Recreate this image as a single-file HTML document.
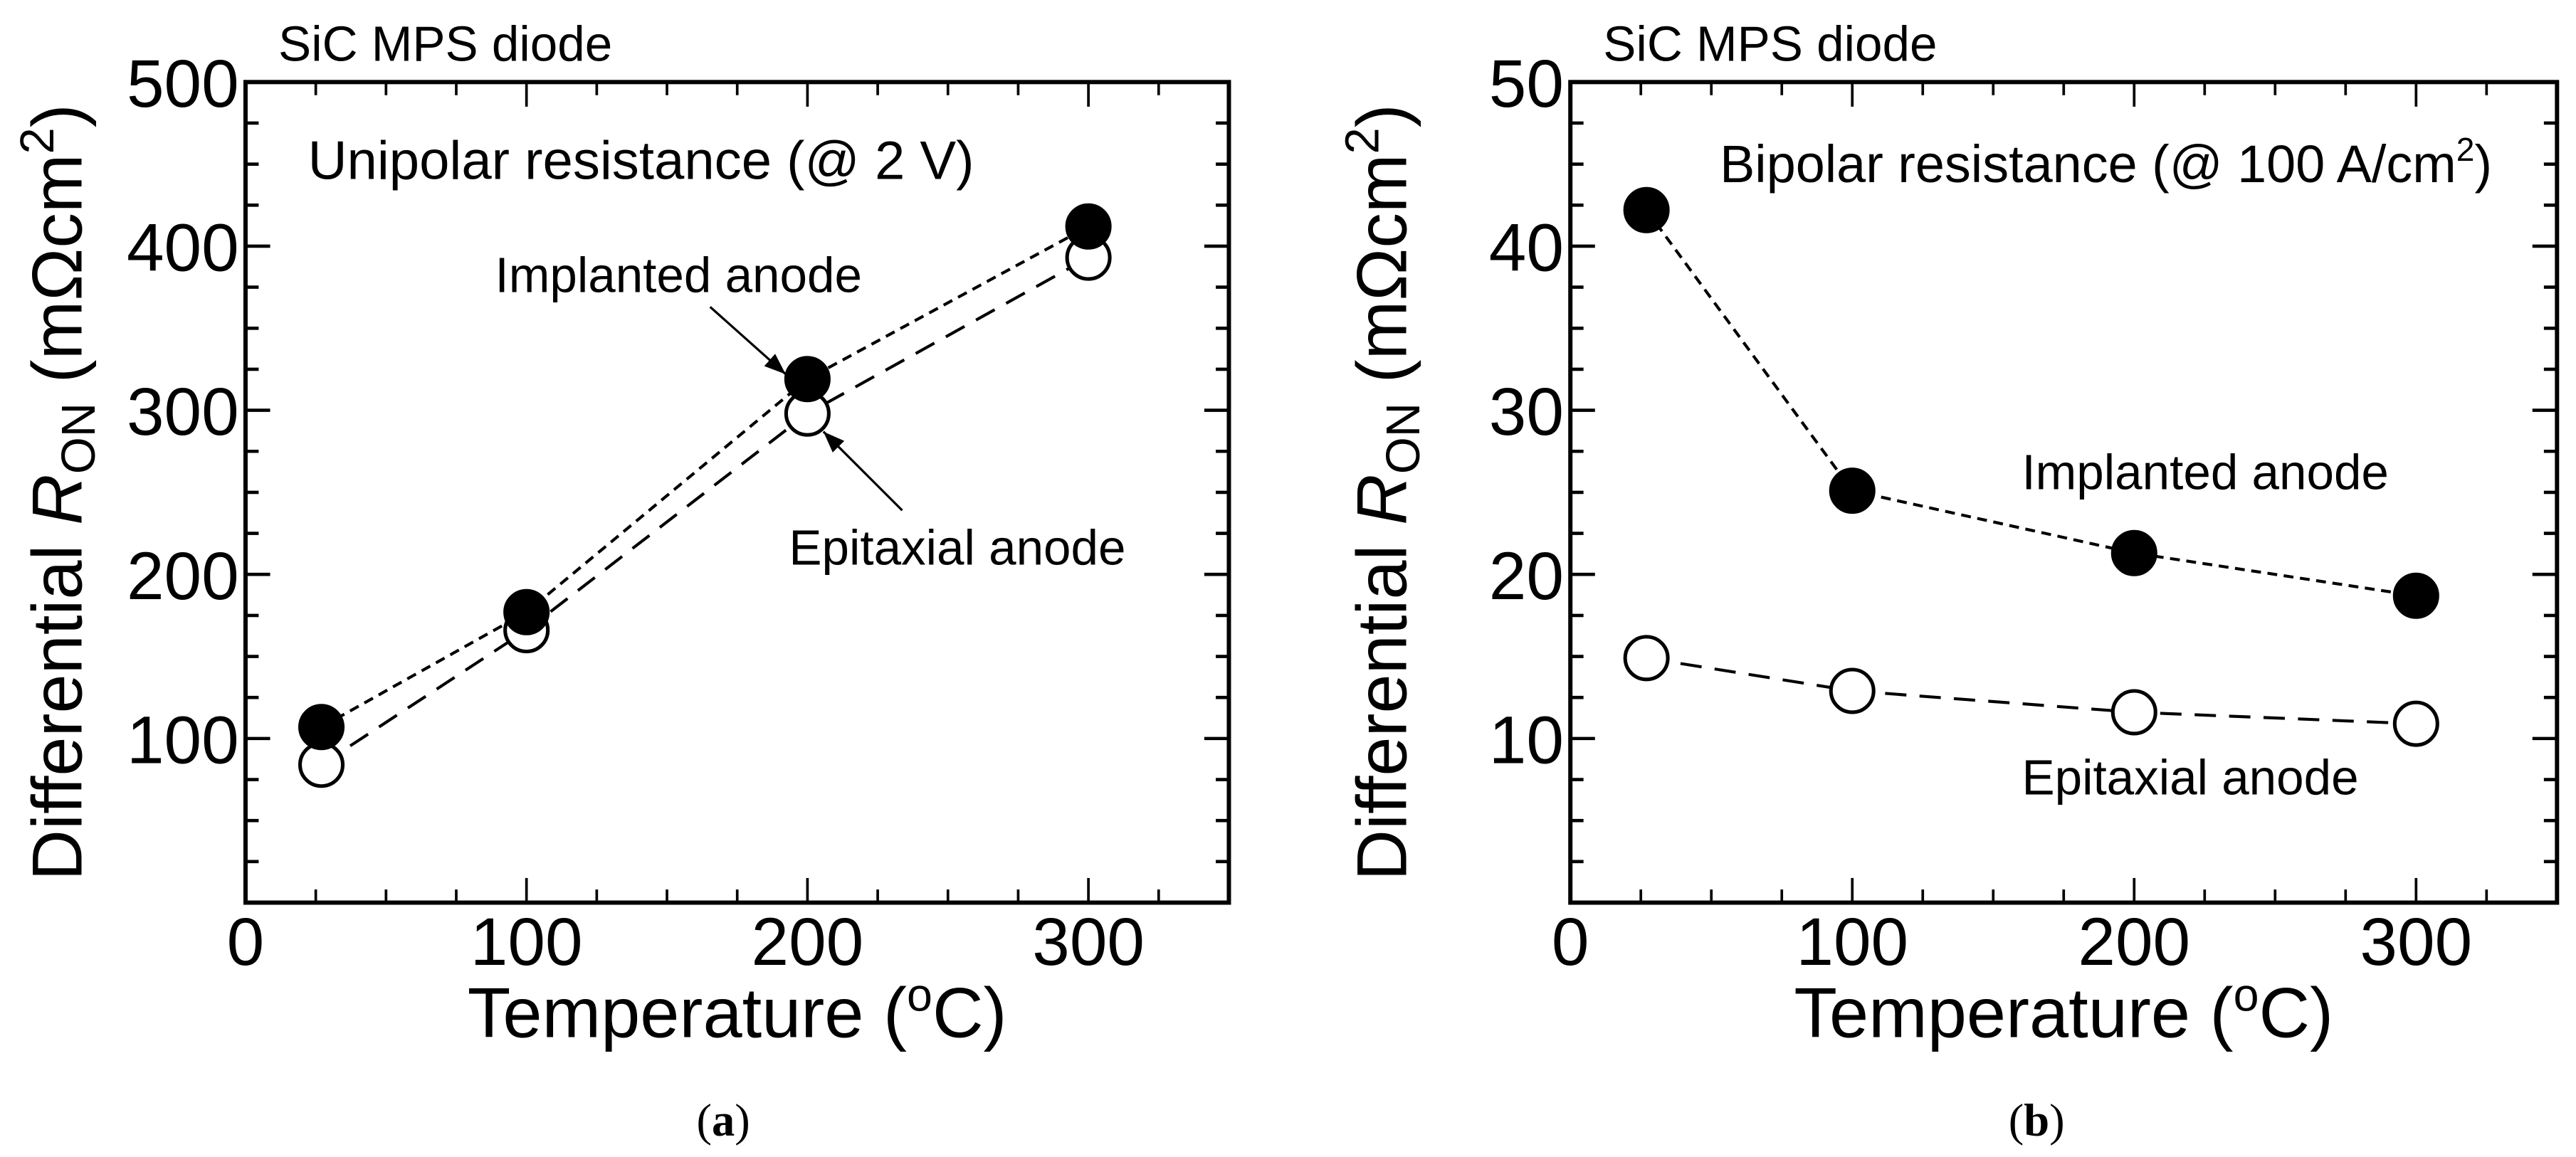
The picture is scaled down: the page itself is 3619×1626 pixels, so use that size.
<!DOCTYPE html>
<html><head><meta charset="utf-8"><style>
html,body{margin:0;padding:0;background:#fff;}
svg{display:block;}
text{font-family:"Liberation Sans",Arial,sans-serif;fill:#000;}
</style></head><body>
<svg id="fig" width="3619" height="1626" viewBox="0 0 1568 705" xmlns="http://www.w3.org/2000/svg"></svg>
<script>
const temps = [27, 100, 200, 300];
const aImplanted = [107, 177, 319, 412];
const aEpitaxial = [84, 166, 298, 393];
const bImplanted = [42.2, 25.1, 21.3, 18.7];
const bEpitaxial = [14.9, 12.9, 11.6, 10.9];
const xTicks = [0, 100, 200, 300];
const aYTicks = [100, 200, 300, 400, 500];
const bYTicks = [10, 20, 30, 40, 50];

const NS = "http://www.w3.org/2000/svg";
const svg = document.getElementById("fig");
function el(tag, attrs, parent) {
  const e = document.createElementNS(NS, tag);
  for (const k in attrs) e.setAttribute(k, attrs[k]);
  (parent || svg).appendChild(e);
  return e;
}

function panel(cfg) {
  const g = el("g", {});
  
  
  const L = cfg.left, R = cfg.right, T = 50, B = 550;
  const xs = v => L + (v / 350) * (R - L);
  const ys = v => B - (v / cfg.ymax) * (B - T);
  const frame = el("rect", {x: L, y: T, width: R - L, height: B - T, fill: "none", stroke: "#000", "stroke-width": 2.6}, g);
  
  
  for (let v = 25; v < 350; v += 25) {
    const major = v % 100 === 0;
    const len = major ? 15 : 8;
    el("line", {x1: xs(v), x2: xs(v), y1: B, y2: B - len, stroke: "#000", "stroke-width": 1.6}, g);
    el("line", {x1: xs(v), x2: xs(v), y1: T, y2: T + len, stroke: "#000", "stroke-width": 1.6}, g);
  }
  const step = cfg.ymax / 20;
  for (let i = 1; i < 20; i++) {
    const v = i * step;
    const major = i % 4 === 0;
    const len = major ? 15 : 8;
    el("line", {x1: L, x2: L + len, y1: ys(v), y2: ys(v), stroke: "#000", "stroke-width": 2}, g);
    el("line", {x1: R, x2: R - len, y1: ys(v), y2: ys(v), stroke: "#000", "stroke-width": 2}, g);
  }
  xTicks.forEach(v => {
    const t = el("text", {x: xs(v), y: B + 38, "font-size": 41, "text-anchor": "middle"}, g);
    t.textContent = v;
    
    
  });
  cfg.yTicks.forEach(v => {
    const t = el("text", {x: L - 4, y: ys(v) + 15, "font-size": 41, "text-anchor": "end"}, g);
    t.textContent = v;
    
    
  });
  const xt = el("text", {x: (L + R) / 2, y: 632, "font-size": 43, "text-anchor": "middle"}, g);
  xt.innerHTML = 'Temperature (<tspan dy="-16" font-size="28">o</tspan><tspan dy="16">C)</tspan>';
  
  
  const yt = el("text", {x: 0, y: 0, "font-size": 43, "text-anchor": "middle", transform: `translate(${L - 100},${(T + B) / 2}) rotate(-90)`}, g);
  yt.innerHTML = 'Differential <tspan font-style="italic">R</tspan><tspan font-size="29" dy="8">ON</tspan><tspan dy="-8"> (m&#937;cm</tspan><tspan font-size="29" dy="-17">2</tspan><tspan dy="17">)</tspan>';
  
  
  const st = el("text", {x: L + 20, y: 37, "font-size": 30}, g);
  st.textContent = "SiC MPS diode";
  
  
  const cap = el("text", {x: cfg.capX, y: 692, "font-size": 28, "text-anchor": "middle", style: "font-family:'Liberation Serif',serif"}, g);
  cap.innerHTML = '(<tspan font-weight="bold">' + cfg.letter + '</tspan>)';
  
  

  function series(vals, dash, filled, name) {
    const pts = temps.map((t, i) => xs(t) + "," + ys(vals[i])).join(" ");
    const pl = el("polyline", {points: pts, fill: "none", stroke: "#000", "stroke-width": 1.8, "stroke-dasharray": dash}, g);
    
    
    temps.forEach((t, i) => {
      const c = el("circle", {cx: xs(t), cy: ys(vals[i]), r: 13, fill: filled ? "#000" : "#fff", stroke: "#000", "stroke-width": 2.2}, g);
      
      
    });
  }
  series(cfg.epi, "13,8", false, "epitaxial-anode");
  series(cfg.imp, "6,4", true, "implanted-anode");
  cfg.extra(g, xs, ys);
}

function label(g, x, y, txt, name, size) {
  const t = el("text", {x: x, y: y, "font-size": size || 30}, g);
  t.innerHTML = txt;
  
  
}
function arrow(g, x1, y1, x2, y2, name) {
  const l = el("line", {x1, y1, x2, y2, stroke: "#000", "stroke-width": 1.4}, g);
  
  
  const a = Math.atan2(y2 - y1, x2 - x1), s = 13, w = 5;
  const p = [[x2, y2], [x2 - s * Math.cos(a) + w * Math.sin(a), y2 - s * Math.sin(a) - w * Math.cos(a)], [x2 - s * Math.cos(a) - w * Math.sin(a), y2 - s * Math.sin(a) + w * Math.cos(a)]];
  const h = el("polygon", {points: p.map(q => q.join(",")).join(" "), fill: "#000"}, g);
  
  
}

panel({name: "panel-a", left: 149, right: 748, ymax: 500, yTicks: aYTicks, imp: aImplanted, epi: aEpitaxial, letter: "a", capX: 440,
  extra: (g) => {
    label(g, 187, 109, "Unipolar resistance (@ 2 V)", "panel-a-annotation", 33);
    label(g, 301, 178, "Implanted anode", "implanted-label", 30);
    label(g, 480, 344, "Epitaxial anode", "epitaxial-label", 30);
    arrow(g, 432, 187, 478, 228, "implanted-arrow");
    arrow(g, 549, 311, 501, 263, "epitaxial-arrow");
  }});
panel({name: "panel-b", left: 956, right: 1557, ymax: 50, yTicks: bYTicks, imp: bImplanted, epi: bEpitaxial, letter: "b", capX: 1240,
  extra: (g) => {
    label(g, 1047, 111, 'Bipolar resistance (@ 100 A/cm<tspan font-size="20" dy="-13">2</tspan><tspan dy="13">)</tspan>', "panel-b-annotation", 32);
    label(g, 1231, 298, "Implanted anode", "implanted-label", 30);
    label(g, 1231, 484, "Epitaxial anode", "epitaxial-label", 30);
  }});
</script>
</body></html>
